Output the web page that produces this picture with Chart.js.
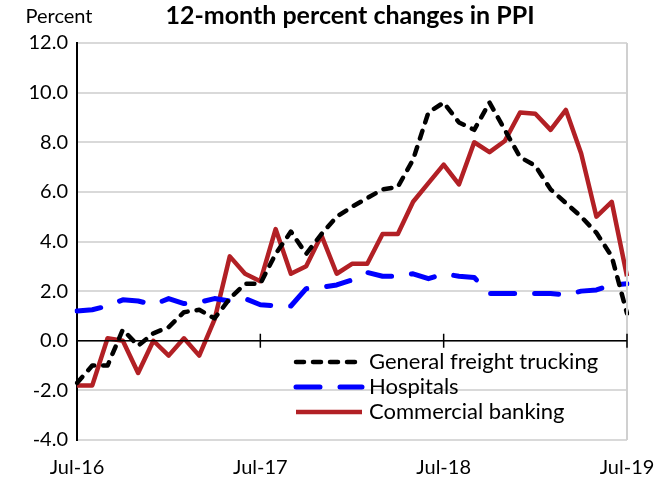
<!DOCTYPE html>
<html>
<head>
<meta charset="utf-8">
<script src="https://cdn.jsdelivr.net/npm/chart.js@4"></script>
<style>
  body { margin: 0; background: #fff; }
  #wrap { width: 671px; height: 478px; }
</style>
</head>
<body>
<div id="wrap"><canvas id="ppiChart" width="671" height="478"></canvas></div>
<script>
// Data
const months = [
  'Jul-16','Aug-16','Sep-16','Oct-16','Nov-16','Dec-16','Jan-17','Feb-17','Mar-17','Apr-17','May-17','Jun-17',
  'Jul-17','Aug-17','Sep-17','Oct-17','Nov-17','Dec-17','Jan-18','Feb-18','Mar-18','Apr-18','May-18','Jun-18',
  'Jul-18','Aug-18','Sep-18','Oct-18','Nov-18','Dec-18','Jan-19','Feb-19','Mar-19','Apr-19','May-19','Jun-19',
  'Jul-19'
];
const shownLabels = ['Jul-16', 'Jul-17', 'Jul-18', 'Jul-19'];

const trucking = [
  -1.7, -1.0, -1.0, 0.45, -0.2, 0.3, 0.55, 1.15, 1.25, 0.9, 1.7, 2.3,
  2.3, 3.5, 4.4, 3.5, 4.3, 5.0, 5.4, 5.75, 6.1, 6.2, 7.3, 9.2,
  9.6, 8.8, 8.5, 9.6, 8.5, 7.4, 7.05, 6.1, 5.55, 5.0, 4.35, 3.4,
  1.1
];
const hospitals = [
  1.2, 1.25, 1.4, 1.65, 1.6, 1.45, 1.7, 1.5, 1.55, 1.7, 1.6, 1.7,
  1.45, 1.4, 1.4, 2.1, 2.15, 2.25, 2.45, 2.75, 2.6, 2.6, 2.7, 2.5,
  2.7, 2.6, 2.55, 1.9, 1.9, 1.9, 1.9, 1.9, 1.85, 2.0, 2.05, 2.25,
  2.3
];
const banking = [
  -1.8, -1.8, 0.1, 0.0, -1.3, 0.0, -0.6, 0.1, -0.6, 0.85, 3.4, 2.7,
  2.4, 4.5, 2.7, 3.0, 4.25, 2.7, 3.1, 3.1, 4.3, 4.3, 5.6, 6.35,
  7.1, 6.3, 8.0, 7.6, 8.05, 9.2, 9.15, 8.5, 9.3, 7.55, 5.0, 5.6,
  2.6
];

const seriesNames = ['General freight trucking', 'Hospitals', 'Commercial banking'];
const fontFamily = 'Lato, "Open Sans", sans-serif';

// Plugins
const framePlugin = {
  id: 'frame',
  afterDraw(chart) {
    const { ctx, chartArea, scales } = chart;
    const x = scales.x, y = scales.y;
    const y0 = y.getPixelForValue(0);

    ctx.save();
    // right border
    ctx.strokeStyle = '#d0d0d0';
    ctx.lineWidth = 2;
    ctx.beginPath();
    ctx.moveTo(chartArea.right, chartArea.top);
    ctx.lineTo(chartArea.right, chartArea.bottom);
    ctx.stroke();

    // zero line with year ticks
    ctx.strokeStyle = '#000';
    ctx.lineWidth = 1.5;
    ctx.beginPath();
    ctx.moveTo(chartArea.left, y0);
    ctx.lineTo(chartArea.right, y0);
    months.forEach((m, i) => {
      if (i > 0 && shownLabels.includes(m)) {
        const px = x.getPixelForValue(i);
        ctx.moveTo(px, y0 - 7);
        ctx.lineTo(px, y0 + 7);
      }
    });
    ctx.stroke();

    // titles
    ctx.fillStyle = '#000';
    ctx.textBaseline = 'middle';
    ctx.textAlign = 'center';
    ctx.font = 'bold 25px ' + fontFamily;
    ctx.fillText('12-month percent changes in PPI', 350, 16);
    ctx.font = '20px ' + fontFamily;
    ctx.fillText('Percent', 59, 17);

    // legend
    ctx.textAlign = 'left';
    ctx.font = '22px ' + fontFamily;
    chart.data.datasets.forEach((ds, i) => {
      const ly = 362 + i * 25;
      ctx.strokeStyle = ds.borderColor;
      ctx.lineWidth = ds.borderWidth;
      ctx.lineCap = ds.borderCapStyle;
      ctx.setLineDash(ds.borderDash || []);
      ctx.beginPath();
      ctx.moveTo(296, ly);
      ctx.lineTo(362, ly);
      ctx.stroke();
      ctx.setLineDash([]);
      ctx.fillText(ds.label, 369, ly);
    });
    ctx.restore();
  }
};

// Chart
const ctx = document.getElementById('ppiChart').getContext('2d');
new Chart(ctx, {
  type: 'line',
  data: {
    labels: months,
    datasets: [
      { label: seriesNames[0], data: trucking, borderColor: '#000000', borderWidth: 4.5, borderDash: [8, 9], borderCapStyle: 'round' },
      { label: seriesNames[1], data: hospitals, borderColor: '#0000ff', borderWidth: 5, borderDash: [24, 20], borderCapStyle: 'round' },
      { label: seriesNames[2], data: banking, borderColor: '#b22025', borderWidth: 4.5, borderCapStyle: 'butt' }
    ]
  },
  options: {
    responsive: false,
    animation: false,
    layout: { padding: { top: 43, right: 44, left: 0, bottom: 0 } },
    elements: { point: { radius: 0 }, line: { tension: 0, borderJoinStyle: 'round' } },
    plugins: { legend: { display: false }, title: { display: false }, tooltip: { enabled: false } },
    scales: {
      x: {
        offset: false,
        grid: { display: false },
        border: { display: false },
        afterFit(scale) { scale.height = 38; },
        ticks: {
          autoSkip: false,
          maxRotation: 0,
          padding: 8,
          color: '#000',
          font: { size: 20, family: fontFamily },
          callback(value, index) {
            const m = months[index];
            return shownLabels.includes(m) ? m : '';
          }
        }
      },
      y: {
        min: -4,
        max: 12,
        afterFit(scale) { scale.width = 77; },
        grid: { color: '#d9d9d9', lineWidth: 2, drawTicks: false },
        border: { color: '#000', width: 2 },
        ticks: {
          stepSize: 2,
          padding: 9,
          color: '#000',
          font: { size: 20, family: fontFamily },
          callback: v => v.toFixed(1)
        }
      }
    }
  },
  plugins: [framePlugin]
});
</script>
</body>
</html>
